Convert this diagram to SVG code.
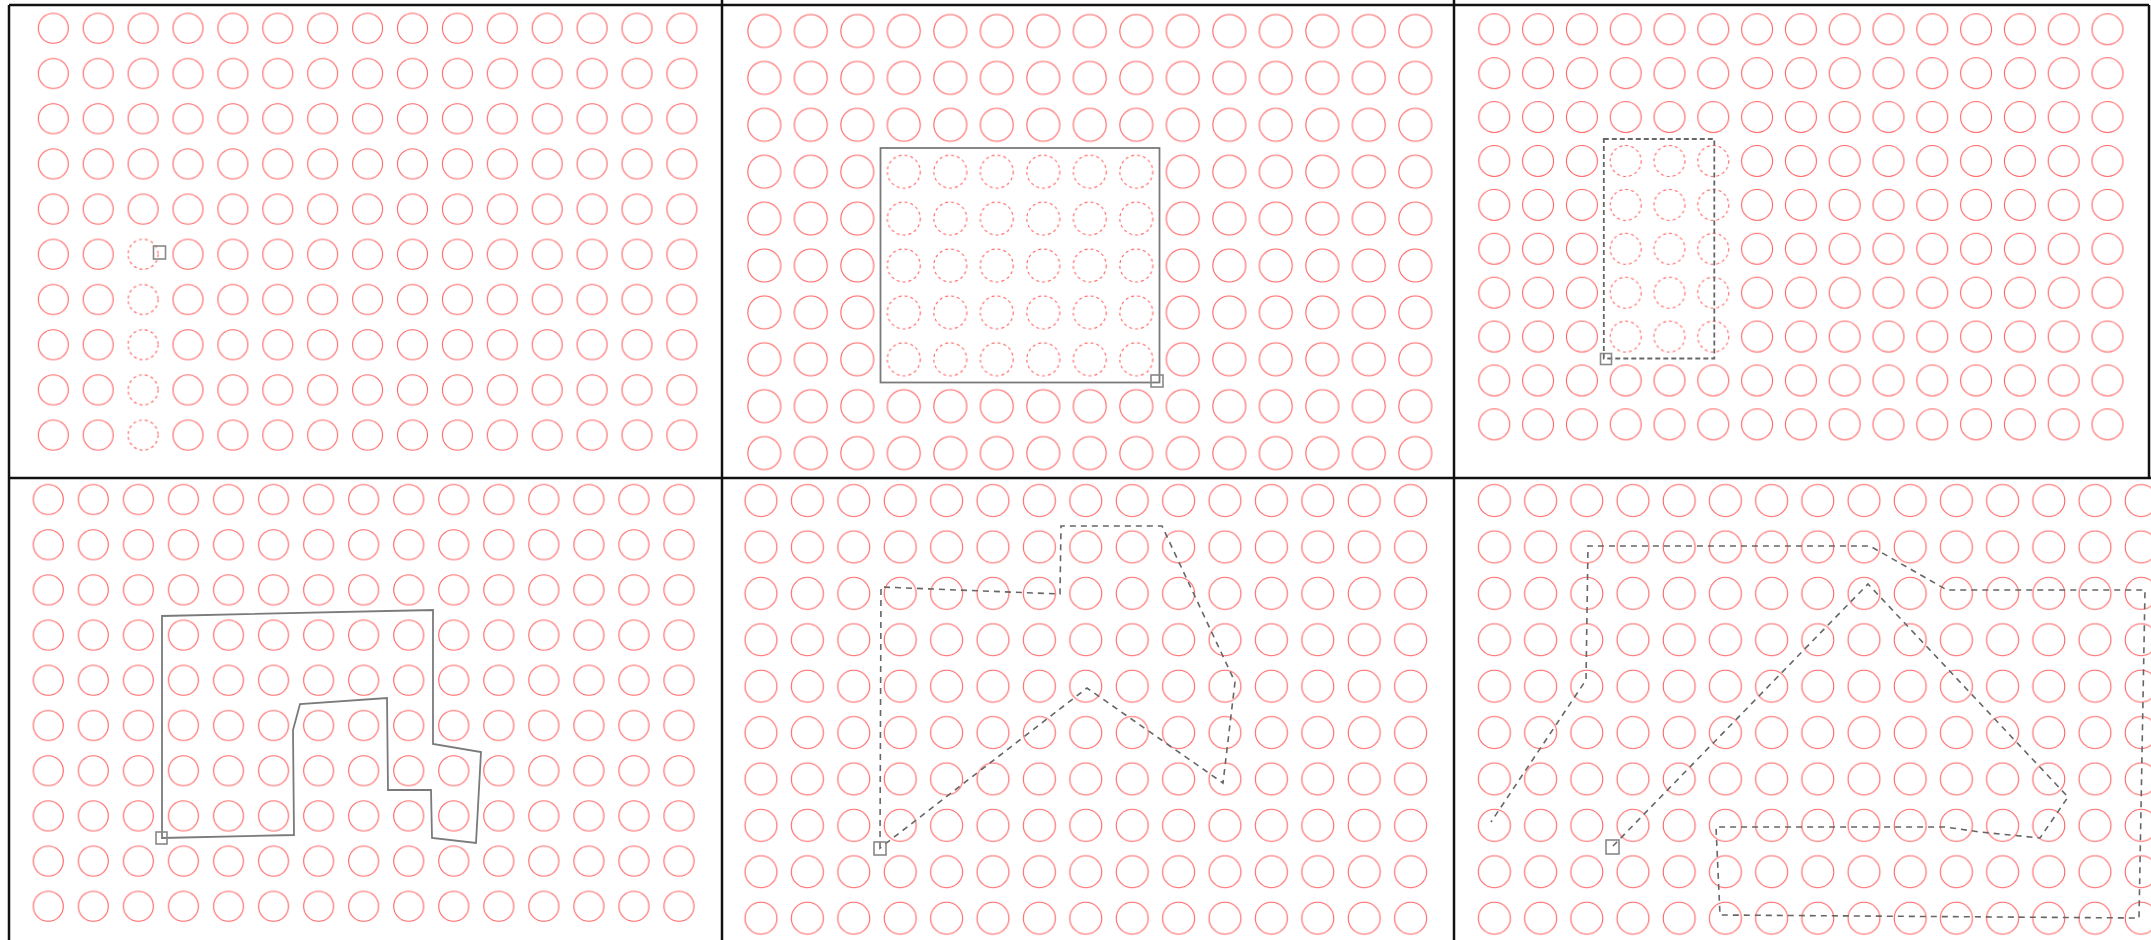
<svg xmlns="http://www.w3.org/2000/svg" xmlns:xlink="http://www.w3.org/1999/xlink" width="2151" height="940" viewBox="0 0 2151 940">
<style>
.c{fill:none;stroke:#ff6262;stroke-width:1.1}
.cd{fill:none;stroke:#ff6262;stroke-width:1.1;stroke-dasharray:3 3}
.frame{stroke:#111;stroke-width:2.5;fill:none}
.sq{fill:none;stroke:#888;stroke-width:1.6}
.solid{fill:none;stroke:#7a7a7a;stroke-width:1.8}
.dash{fill:none;stroke:#666;stroke-width:1.6;stroke-dasharray:6 5}
.dash3{fill:none;stroke:#666;stroke-width:1.8;stroke-dasharray:5 3}
.blank{fill:#fff}
</style>
<defs>
<pattern id="p1" patternUnits="userSpaceOnUse" x="30.85" y="5.7" width="44.9" height="45.2"><circle class="c" cx="22.45" cy="22.6" r="15"/></pattern>
<pattern id="p1d" patternUnits="userSpaceOnUse" x="30.85" y="5.7" width="44.9" height="45.2"><circle class="cd" cx="22.45" cy="22.6" r="15"/></pattern>
<pattern id="p2" patternUnits="userSpaceOnUse" x="741.05" y="7.55" width="46.5" height="46.9"><circle class="c" cx="23.25" cy="23.45" r="16.5"/></pattern>
<pattern id="p2d" patternUnits="userSpaceOnUse" x="741.05" y="7.55" width="46.5" height="46.9"><circle class="cd" cx="23.25" cy="23.45" r="16.5"/></pattern>
<pattern id="p3" patternUnits="userSpaceOnUse" x="1472.4" y="7.35" width="43.8" height="43.9"><circle class="c" cx="21.9" cy="21.95" r="15.5"/></pattern>
<pattern id="p3d" patternUnits="userSpaceOnUse" x="1472.4" y="7.35" width="43.8" height="43.9"><circle class="cd" cx="21.9" cy="21.95" r="15.5"/></pattern>
<pattern id="p4" patternUnits="userSpaceOnUse" x="25.78" y="476.9" width="45.05" height="45.2"><circle class="c" cx="22.52" cy="22.6" r="15"/></pattern>
<pattern id="p5" patternUnits="userSpaceOnUse" x="737.8" y="477.4" width="46.4" height="46.4"><circle class="c" cx="23.2" cy="23.2" r="16"/></pattern>
<pattern id="p6" patternUnits="userSpaceOnUse" x="1471.3" y="477.4" width="46.2" height="46.4"><circle class="c" cx="23.1" cy="23.2" r="16"/></pattern>
</defs>
<rect width="2151" height="940" fill="#fff"/>

<g id="panel1">
<rect x="30.85" y="5.7" width="673.5" height="452" fill="url(#p1)"/>
<rect class="blank" x="120.65" y="231.7" width="44.9" height="226"/>
<rect x="120.65" y="231.7" width="44.9" height="226" fill="url(#p1d)"/>
<rect class="sq" x="153.5" y="246" width="12" height="13"/>
</g>

<g id="panel2">
<rect x="741.05" y="7.55" width="697.5" height="469" fill="url(#p2)"/>
<rect class="blank" x="880.55" y="148.25" width="279" height="234.5"/>
<rect x="880.55" y="148.25" width="279" height="234.5" fill="url(#p2d)"/>
<rect class="solid" x="880.5" y="148" width="279" height="234.5"/>
<rect class="sq" x="1151" y="375" width="12" height="12"/>
</g>

<g id="panel3">
<rect x="1472.4" y="7.35" width="657" height="439" fill="url(#p3)"/>
<rect class="blank" x="1603.8" y="139.05" width="131.4" height="219.5"/>
<rect x="1603.8" y="139.05" width="131.4" height="219.5" fill="url(#p3d)"/>
<rect class="dash3" x="1603.8" y="139" width="110.5" height="219.5"/>
<rect class="sq" x="1600.5" y="353.5" width="11" height="11"/>
</g>

<g id="panel4">
<rect x="25.78" y="476.9" width="675.75" height="452" fill="url(#p4)"/>
<polygon class="solid" points="162,838 162,616 433,610 433,744 481,752 476,843 432,838 431,790 388,790 387,698 300,704 293,730 294,835"/>
<rect class="sq" x="156" y="832" width="11" height="12"/>
</g>

<g id="panel5">
<rect x="737.8" y="477.4" width="696" height="463" fill="url(#p5)"/>
<polygon class="dash" points="880,848 881,587 1060,594 1061,526 1162,526 1235,682 1223,783 1087,688"/>
<rect class="sq" x="874" y="842" width="12" height="13"/>
</g>

<g id="panel6">
<rect x="1471.3" y="477.4" width="693" height="463" fill="url(#p6)"/>
<polyline class="dash" points="1613,846 1868,584 2068,797 2040,838 1980,832 1945,827 1716,827 1720,915 2139,918 2145,590 1947,590 1870,546 1588,546 1586,680 1491,822"/>
<rect class="sq" x="1606" y="840" width="13" height="14"/>
</g>

<g id="frame">
<line class="frame" x1="9" y1="5" x2="2149" y2="5"/>
<line class="frame" x1="9" y1="5" x2="9" y2="940"/>
<line class="frame" x1="722" y1="0" x2="722" y2="940"/>
<line class="frame" x1="1454" y1="0" x2="1454" y2="940"/>
<line class="frame" x1="9" y1="478" x2="2151" y2="478"/>
<line class="frame" x1="2149" y1="5" x2="2149" y2="478"/>
</g>
</svg>
